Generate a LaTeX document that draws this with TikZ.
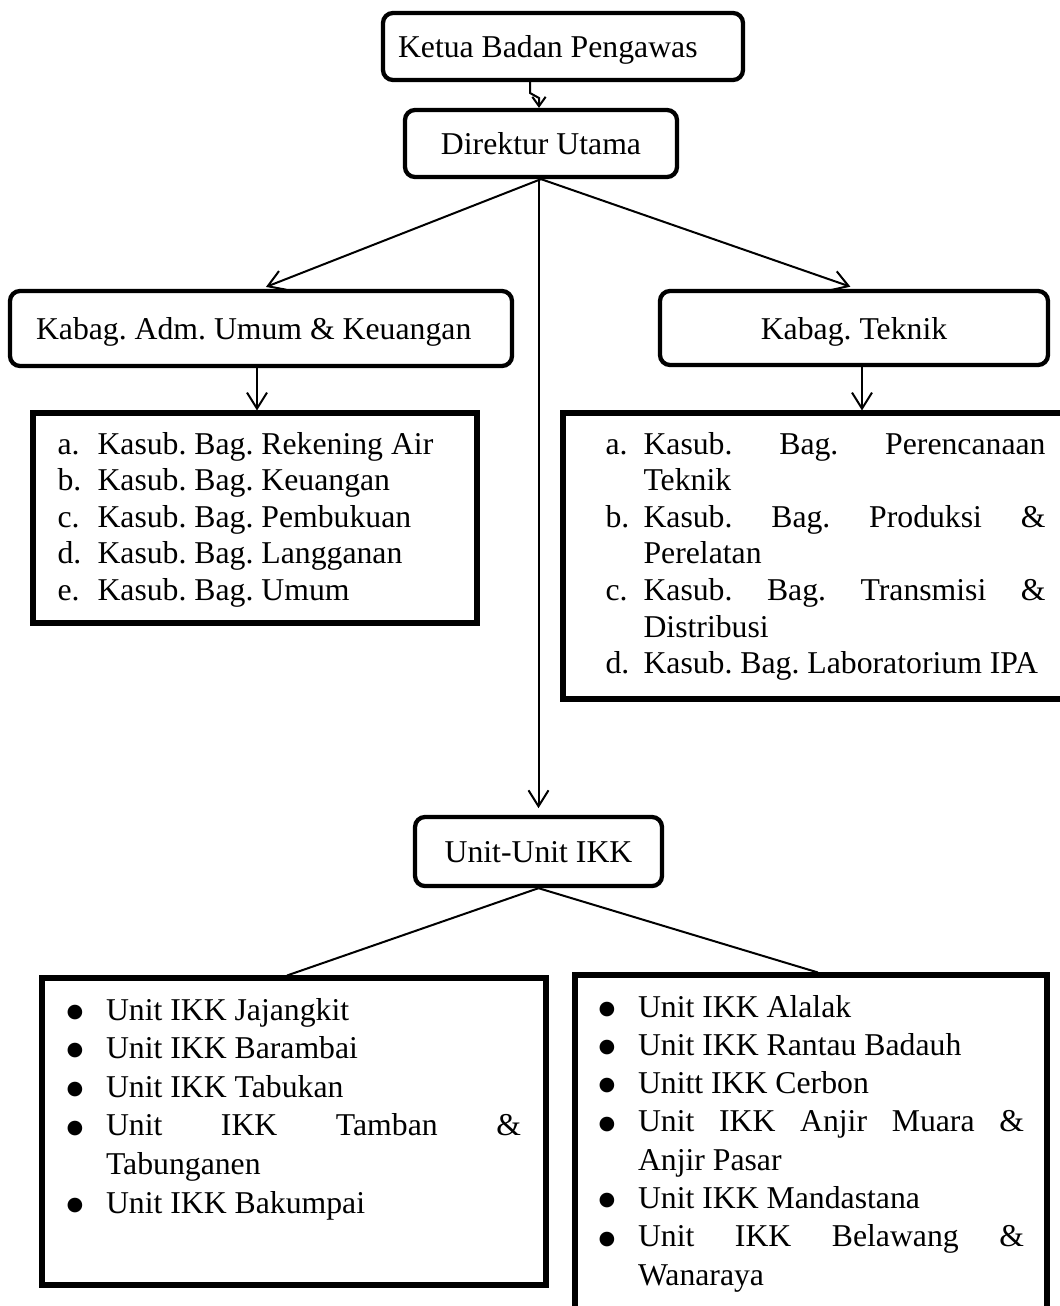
\documentclass[tikz,border=0pt]{standalone}
\usepackage{fontspec}
\setmainfont{Liberation Serif}
\newfontfamily\bulfont{DejaVu Sans}
\frenchspacing
\usetikzlibrary{arrows.meta,calc}
\newcommand{\mylbl}[1]{\makebox[14.25pt][l]{#1}}
\newcommand{\mylblA}[1]{\makebox[15pt][l]{#1}}
\newcommand{\mybul}{\makebox[14.8pt][l]{\raisebox{1pt}{\bulfont\fontsize{7.2}{7.2}\selectfont ●}}}
\newcommand{\mynobul}{\makebox[14.8pt]{}}
\begin{document}
\begin{tikzpicture}[x=0.375pt,y=-0.375pt,
  rbox/.style={draw, line width=1.6pt, rounded corners=3.75pt, inner sep=0pt,
    text depth=0pt, font=\fontsize{11.9}{13.7}\selectfont},
  lbox/.style={draw, line width=1.9pt, inner sep=0pt},
  conn/.style={line width=0.75pt},
  arr/.style={conn, -{Straight Barb[length=6pt,width=7.5pt,line width=0.75pt]}},
  smallarr/.style={conn, -{Straight Barb[length=3.5pt,width=5pt,line width=0.75pt]}},
  txt/.style={anchor=base west, inner sep=0pt}
]
\useasboundingbox (0,0) rectangle (1060,1306);

% rounded boxes
\node[rbox, minimum width=135pt, minimum height=25.125pt] (ketua) at (563,46.5) {\makebox[123.75pt][l]{Ketua Badan Pengawas}};
\node[rbox, minimum width=102pt, minimum height=25.125pt] (dir) at (541,143.5) {Direktur Utama};
\node[rbox, minimum width=188.25pt, minimum height=28.125pt] (kabagA) at (261,328.5) {\makebox[168.75pt][l]{Kabag. Adm. Umum \& Keuangan}};
\node[rbox, minimum width=145.5pt, minimum height=27.75pt] (kabagT) at (854,328) {Kabag. Teknik};
\node[rbox, minimum width=92.6pt, minimum height=25.9pt] (unit) at (538.5,851.5) {Unit-Unit IKK};

% list boxes
\node[lbox, minimum width=166.5pt, minimum height=78.75pt] (kasubL) at (255,518) {};
\node[lbox, minimum width=192pt, minimum height=107.25pt] (kasubR) at (819,556) {};
\node[lbox, minimum width=189pt, minimum height=115.125pt] (unitL) at (294,1131.5) {};
\node[lbox, minimum width=177pt, minimum height=133.125pt] (unitR) at (811,1152.5) {};

% list texts
\node[txt] (kasubLt) at (57,454) {\begin{minipage}[t]{165pt}\fontsize{11.9}{13.725}\selectfont
\mylblA{a.}Kasub. Bag. Rekening Air\\
\mylblA{b.}Kasub. Bag. Keuangan\\
\mylblA{c.}Kasub. Bag. Pembukuan\\
\mylblA{d.}Kasub. Bag. Langganan\\
\mylblA{e.}Kasub. Bag. Umum
\end{minipage}};

\node[txt] (kasubRt) at (605,454) {\begin{minipage}[t]{170pt}\fontsize{11.9}{13.725}\selectfont
\mylbl{a.}\makebox[150.75pt][s]{Kasub. Bag. Perencanaan}\\
\mylbl{}Teknik\\
\mylbl{b.}\makebox[150.75pt][s]{Kasub. Bag. Produksi \&}\\
\mylbl{}Perelatan\\
\mylbl{c.}\makebox[150.75pt][s]{Kasub. Bag. Transmisi \&}\\
\mylbl{}Distribusi\\
\mylbl{d.}Kasub. Bag. Laboratorium IPA
\end{minipage}};

\node[txt] (unitLt) at (66,1020) {\begin{minipage}[t]{175pt}\fontsize{11.9}{14.475}\selectfont
\mybul Unit IKK Jajangkit\\
\mybul Unit IKK Barambai\\
\mybul Unit IKK Tabukan\\
\mybul\makebox[155.6pt][s]{Unit IKK Tamban \&}\\
\mynobul Tabunganen\\
\mybul Unit IKK Bakumpai
\end{minipage}};

\node[txt] (unitRt) at (598,1017) {\begin{minipage}[t]{165pt}\fontsize{11.9}{14.36}\selectfont
\mybul Unit IKK Alalak\\
\mybul Unit IKK Rantau Badauh\\
\mybul Unitt IKK Cerbon\\
\mybul\makebox[144.75pt][s]{Unit IKK Anjir Muara \&}\\
\mynobul Anjir Pasar\\
\mybul Unit IKK Mandastana\\
\mybul\makebox[144.75pt][s]{Unit IKK Belawang \&}\\
\mynobul Wanaraya
\end{minipage}};

% connectors
\coordinate (hk) at (530,93);
\coordinate (hk2) at (539,98);
\draw[smallarr] (ketua.south -| hk) -- (hk) -- (hk2) -- (dir.north -| hk2);
\draw[arr, shorten >=2pt] (dir.south) -- (kabagA.north);
\draw[arr, shorten >=2.5pt] (dir.south) -- ([xshift=1pt]kabagT.north);
\draw[arr, shorten >=2.5pt] (dir.south -| unit.north) -- (unit.north);
\draw[arr] ([xshift=-1.5pt]kabagA.south) -- ([xshift=-1.5pt]kabagA.south |- kasubL.north);
\draw[arr] ([xshift=3pt]kabagT.south) -- ([xshift=3pt]kabagT.south |- kasubR.north);
\draw[conn] (unit.south) -- ([xshift=-2.6pt]unitL.north);
\draw[conn] (unit.south) -- ([xshift=2.6pt]unitR.north);
\end{tikzpicture}
\end{document}
